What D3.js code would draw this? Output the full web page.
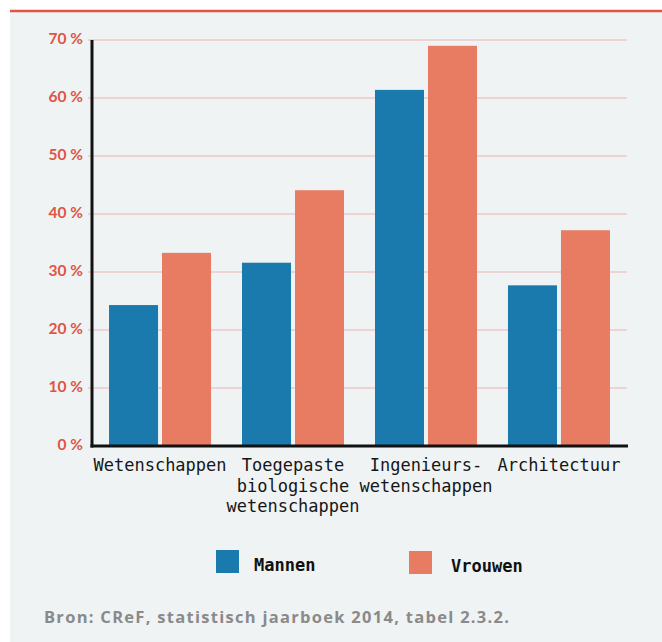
<!DOCTYPE html>
<html>
<head>
<meta charset="utf-8">
<script src="https://cdn.jsdelivr.net/npm/d3@7"></script>
<style>
  html, body { margin: 0; padding: 0; background: #fff; }
  svg { display: block; }
</style>
</head>
<body>
<svg id="chart"></svg>
<script>
let width = 662;
let height = 642;

// data
const categories = ["Wetenschappen", "Toegepaste biologische wetenschappen", "Ingenieurs- wetenschappen", "Architectuur"];
const categoryLines = [["Wetenschappen"], ["Toegepaste", "biologische", "wetenschappen"], ["Ingenieurs-", "wetenschappen"], ["Architectuur"]];
const seriesNames = ["Mannen", "Vrouwen"];
const mannen = [24.3, 31.6, 61.4, 27.7];
const vrouwen = [33.3, 44.1, 69.0, 37.2];
const yTicks = [0, 10, 20, 30, 40, 50, 60, 70];
const colors = ["#1b7aad", "#e87c62"];
const source = "Bron: CReF, statistisch jaarboek 2014, tabel 2.3.2.";

let padding = { left: 92, right: 35, top: 40, bottom: 196 };

let svg = d3.select("#chart").attr("width", width).attr("height", height);

// background panel + top rule
svg.append("rect").attr("x", 0).attr("y", 0).attr("width", width).attr("height", height).attr("fill", "#fff");
svg.append("rect").attr("x", 10).attr("y", 12).attr("width", width - 10).attr("height", height - 12).attr("fill", "#eff3f4");
svg.append("line").attr("x1", 10).attr("x2", width).attr("y1", 11).attr("y2", 11)
  .attr("stroke", "#e05443").attr("stroke-width", 2.5);

let x0 = d3.scaleBand()
  .domain(categories)
  .range([padding.left, width - padding.right])
  .paddingInner(0.233)
  .paddingOuter(0.128);

let x1 = d3.scaleBand()
  .domain(seriesNames)
  .range([0, x0.bandwidth()])
  .paddingInner(0.075);

let yScale = d3.scaleLinear()
  .domain([0, 70])
  .range([height - padding.bottom, padding.top]);

// gridlines
svg.append("g")
  .selectAll("line")
  .data(yTicks.filter(d => d > 0))
  .join("line")
  .attr("x1", padding.left - 4)
  .attr("x2", width - padding.right)
  .attr("y1", d => yScale(d))
  .attr("y2", d => yScale(d))
  .attr("stroke", "#edd3d3")
  .attr("stroke-width", 2);

// y labels
svg.append("g")
  .selectAll("text")
  .data(yTicks)
  .join("text")
  .attr("x", 83)
  .attr("y", d => yScale(d) + 4)
  .attr("text-anchor", "end")
  .attr("font-family", "Lato, sans-serif")
  .attr("font-weight", 700)
  .attr("font-size", 15.5)
  .attr("fill", "#e05443")
  .text(d => d + " %");

// bars
let rows = categories.map((c, i) => ({ cat: c, values: [mannen[i], vrouwen[i]] }));
let groups = svg.append("g")
  .selectAll("g")
  .data(rows)
  .join("g")
  .attr("transform", d => `translate(${x0(d.cat)},0)`);

groups.selectAll("rect")
  .data(d => d.values.map((v, j) => ({ name: seriesNames[j], value: v, j })))
  .join("rect")
  .attr("x", d => x1(d.name))
  .attr("width", x1.bandwidth())
  .attr("y", d => yScale(d.value))
  .attr("height", d => yScale(0) - yScale(d.value))
  .attr("fill", d => colors[d.j]);

// axes lines
svg.append("line")
  .attr("x1", padding.left).attr("x2", padding.left)
  .attr("y1", yScale(70)).attr("y2", yScale(0) + 1.5)
  .attr("stroke", "#111").attr("stroke-width", 3);
svg.append("line")
  .attr("x1", padding.left - 1.5).attr("x2", width - padding.right + 1)
  .attr("y1", yScale(0)).attr("y2", yScale(0))
  .attr("stroke", "#111").attr("stroke-width", 3);

// category labels
let labels = svg.append("g")
  .selectAll("text")
  .data(categories)
  .join("text")
  .attr("x", d => x0(d) + x0.bandwidth() / 2)
  .attr("y", 471)
  .attr("text-anchor", "middle")
  .attr("font-family", "'DejaVu Sans Mono', monospace")
  .attr("font-size", 17)
  .attr("fill", "#161616");

labels.selectAll("tspan")
  .data((d, i) => categoryLines[i])
  .join("tspan")
  .attr("x", function () { return d3.select(this.parentNode).attr("x"); })
  .attr("dy", (d, i) => i === 0 ? 0 : 20.5)
  .text(d => d);

// legend
let legendX = [216, 409];
let legend = svg.append("g")
  .selectAll("g")
  .data(seriesNames)
  .join("g")
  .attr("transform", (d, i) => `translate(${legendX[i]},${550 + i})`);

legend.append("rect")
  .attr("width", 23).attr("height", 23)
  .attr("fill", (d, i) => colors[i]);

legend.append("text")
  .attr("x", (d, i) => i === 0 ? 38 : 42)
  .attr("y", 21)
  .attr("font-family", "'DejaVu Sans Mono', monospace")
  .attr("font-weight", 700)
  .attr("font-size", 17)
  .attr("fill", "#111")
  .text(d => d);

// source
svg.append("text")
  .attr("x", 44)
  .attr("y", 623)
  .attr("font-family", "'Open Sans', sans-serif")
  .attr("font-weight", 700)
  .attr("font-size", 16.5)
  .attr("fill", "#8a8a8a")
  .attr("textLength", 465)
  .attr("lengthAdjust", "spacing")
  .text(source);
</script>
</body>
</html>
